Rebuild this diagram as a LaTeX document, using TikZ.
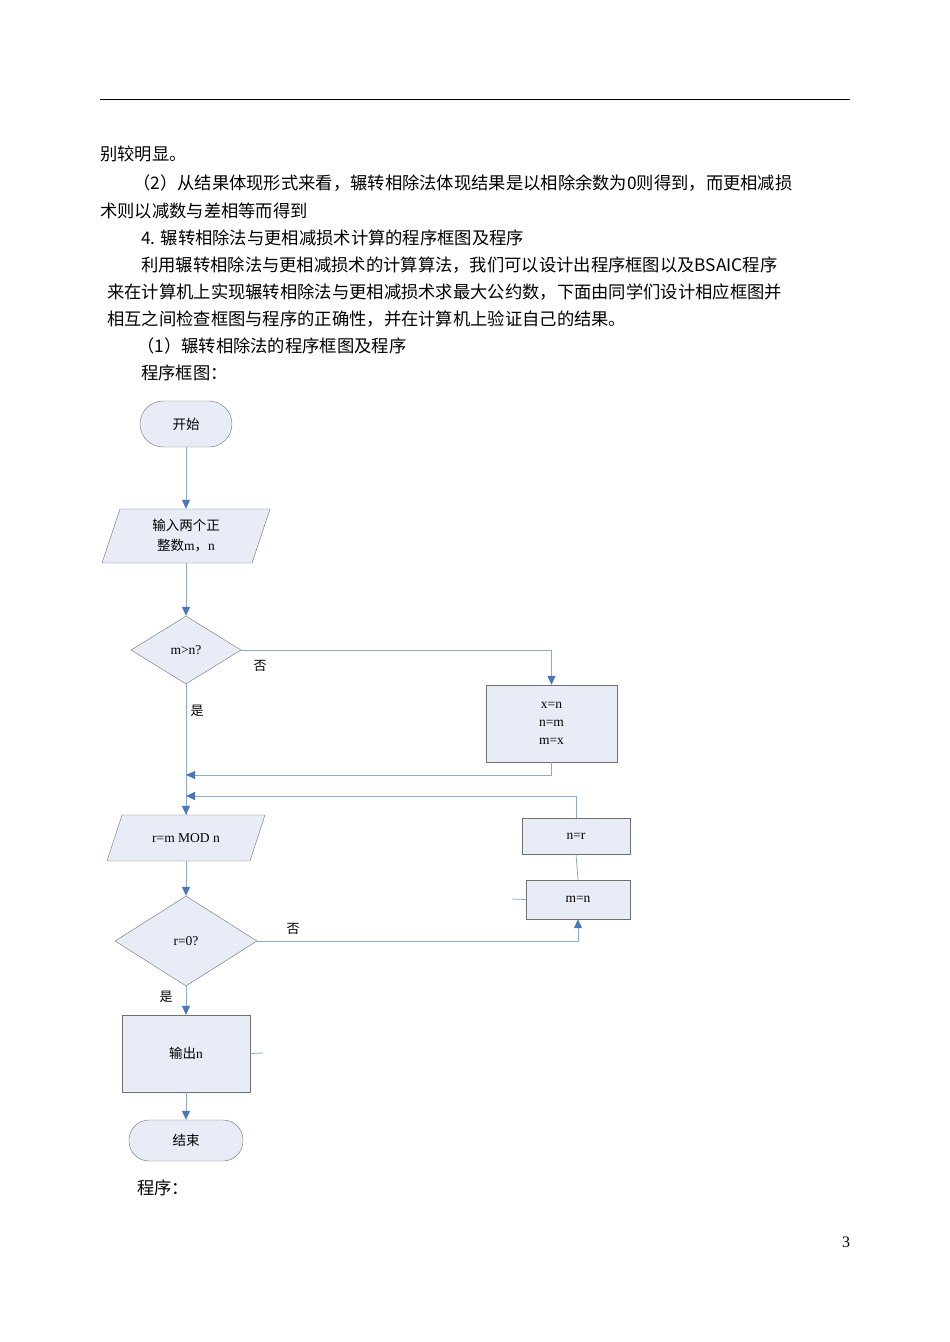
\documentclass[tikz,border=0pt]{standalone}
\usepackage{fontspec}
\setmainfont{Liberation Serif}
\newfontfamily\cjk{Noto Sans CJK SC}
\usetikzlibrary{shapes.geometric,arrows.meta}
\definecolor{fillc}{HTML}{E8ECF7}
\definecolor{linec}{HTML}{8EA9CF}
\definecolor{arrc}{HTML}{4A76C0}
\definecolor{boxc}{HTML}{707070}
\begin{document}
\begin{tikzpicture}[x=1pt,y=-1pt,
  fs/.style={font=\fontsize{13.5}{15}\selectfont},
  box/.style={draw=boxc,fill=fillc,inner sep=0,fs,align=center},
  dia/.style={diamond,draw=boxc,fill=fillc,inner sep=0,fs},
  ghost/.style={draw=none,inner sep=0,fs,align=center},
  ln/.style={draw=linec,line width=0.8pt},
  arr/.style={ln,-{Triangle[length=9pt,width=8pt,fill=arrc,color=arrc]}},
  body/.style={font=\cjk\fontsize{17.3}{20}\selectfont,anchor=west,inner sep=0},
  lbl/.style={font=\cjk\fontsize{13}{15}\selectfont,inner sep=0}]
\useasboundingbox (0,0) rectangle (950,1342);
\draw[line width=0.8pt] (100,99) -- (850,99);
\node[body] at (100,154) {别较明显。};
\node[body] at (133,183) {（2）从结果体现形式来看，辗转相除法体现结果是以相除余数为0则得到，而更相减损};
\node[body] at (100,211) {术则以减数与差相等而得到};
\node[body] at (141,238) {4. 辗转相除法与更相减损术计算的程序框图及程序};
\node[body] at (141,265) {利用辗转相除法与更相减损术的计算算法，我们可以设计出程序框图以及BSAIC程序};
\node[body] at (107,292) {来在计算机上实现辗转相除法与更相减损术求最大公约数，下面由同学们设计相应框图并};
\node[body] at (107,319) {相互之间检查框图与程序的正确性，并在计算机上验证自己的结果。};
\node[body] at (137,346) {（1）辗转相除法的程序框图及程序};
\node[body] at (141,373) {程序框图：};
\node[body] at (137,1188) {程序：};
\node[anchor=center,font=\fontsize{16}{18}\selectfont] at (846,1242) {3};

\node[box,rounded corners=23pt,minimum width=92pt,minimum height=46pt,font=\cjk\fontsize{13.5}{15}\selectfont] (start) at (186,424) {开始};
\draw[draw=boxc,fill=fillc] (120,509) -- (270,509) -- (252,563) -- (102,563) -- cycle;
\node[ghost,minimum width=130pt,minimum height=54pt,font=\cjk\fontsize{13.5}{20}\selectfont] (in) at (186,536) {输入两个正\\整数{\fontspec{Liberation Serif}m}，{\fontspec{Liberation Serif}n}};
\node[dia,minimum width=110pt,minimum height=68pt] (d1) at (186,650) {m>n?};
\node[box,minimum width=131pt,minimum height=77pt,font=\fontsize{13.5}{18}\selectfont] (sw) at (551.5,723.5) {x=n\\n=m\\m=x};
\draw[draw=boxc,fill=fillc] (122,815) -- (265,815) -- (250,861) -- (107,861) -- cycle;
\node[ghost,minimum width=130pt,minimum height=46pt] (mod) at (186,838) {r=m MOD n};
\node[dia,minimum width=142pt,minimum height=90pt] (d2) at (186,941) {r=0?};
\node[box,minimum width=108pt,minimum height=36pt] (nr) at (576,836) {n=r};
\node[box,minimum width=104pt,minimum height=39pt] (mn) at (578,899.5) {m=n};
\node[box,minimum width=128pt,minimum height=77pt,font=\cjk\fontsize{13.5}{15}\selectfont] (out) at (186,1053.5) {输出{\fontspec{Liberation Serif}n}};
\node[box,rounded corners=20pt,minimum width=114pt,minimum height=41pt,font=\cjk\fontsize{13.5}{15}\selectfont] (end) at (186,1140.5) {结束};

\coordinate (j1) at (186,775);
\coordinate (j2) at (186,796);
\draw[arr] (start) -- (in);
\draw[arr] (in) -- (d1);
\draw[arr] (d1.east) -| (sw.north);
\draw[ln] (d1.south) -- (mod.north);
\draw[arr] (sw.south) |- (j1);
\draw[arr] (nr.north) |- (j2);
\draw[arr] (j2) -- (mod.north);
\draw[arr] (mod) -- (d2);
\draw[arr] (d2.east) -| (mn.south);
\draw[ln] (mn.north) -- (nr.south);
\draw[ln] (512,899) -- (mn.west);
\draw[arr] (d2) -- (out);
\draw[ln] (out.east) -- (263,1053);
\draw[arr] (out) -- (end);
\node[lbl] at (260,666) {否};
\node[lbl] at (197,711) {是};
\node[lbl] at (293,929) {否};
\node[lbl] at (166,997) {是};
\end{tikzpicture}
\end{document}
